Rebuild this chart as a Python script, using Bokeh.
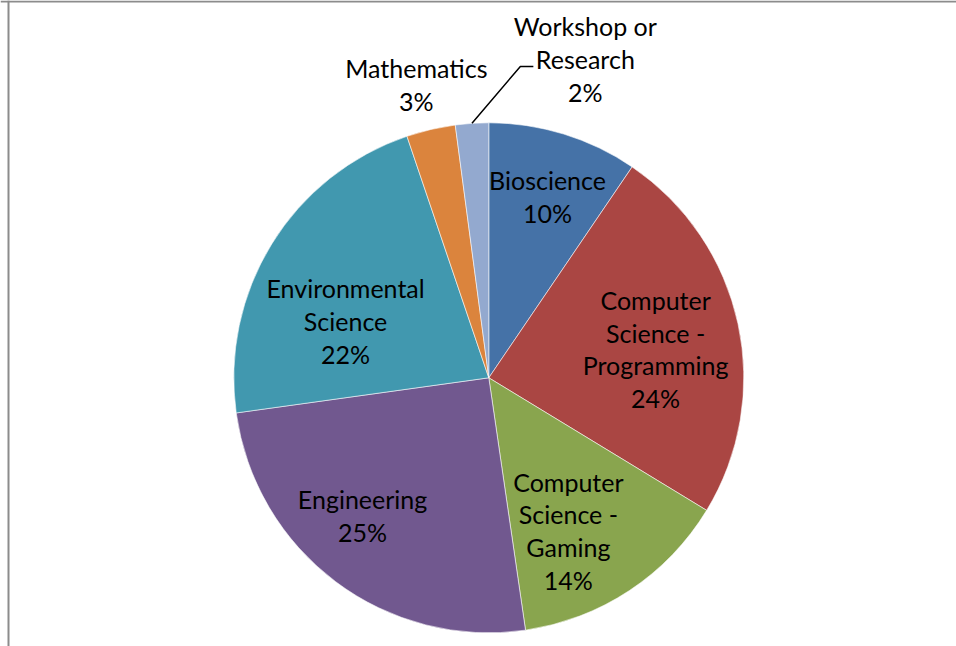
import math
from bokeh.plotting import figure
from bokeh.models import Range1d, ColumnDataSource, Span
from bokeh.core.properties import value
from bokeh.embed import file_html
from bokeh.resources import INLINE

# ---- data ----
categories = ["Bioscience", "Computer Science - Programming", "Computer Science - Gaming",
              "Engineering", "Environmental Science", "Mathematics", "Workshop or Research"]
shares = [9.5, 24.2, 14.0, 25.1, 22.0, 3.1, 2.1]
label_names = [["Bioscience"], ["Computer", "Science -", "Programming"],
               ["Computer", "Science -", "Gaming"], ["Engineering"],
               ["Environmental", "Science"], ["Mathematics"], ["Workshop or", "Research"]]
colors = ["#4572A7", "#AA4643", "#89A54E", "#71588F", "#4198AF", "#DB843D", "#93A9CF"]

# ---- layout ----
W, H = 956, 646
X0, Y0 = 0, 0                   # page position of the figure
CX, CY = 488.3, 377.3           # pie centre in page pixels
R = 255
LINE_H = 32.7
TEXT_DY = 1.5                   # small upward nudge for label text
FONT = "Lato"
FONT_SIZE = "25px"
label_r = [0.741, 0.663, 0.681, 0.737, 0.602, 1.179, 1.301]
label_dang = [1.0, 2.9, 6.2, 5.3, -10.6, -0.8, 20.7]

p = figure(width=W, height=H, output_backend="svg", toolbar_location=None,
           x_range=Range1d(X0 - CX, X0 + W - CX), y_range=Range1d(CY - Y0 - H, CY - Y0),
           min_border=0, outline_line_color=None)
p.axis.visible = False
p.grid.visible = False
p.background_fill_color = "white"

total = sum(shares)
starts, ends, mids = [], [], []
cum = 0.0
for v in shares:
    a0 = cum / total * 360.0
    cum += v
    a1 = cum / total * 360.0
    starts.append(math.radians(90 - a0))
    ends.append(math.radians(90 - a1))
    mids.append((a0 + a1) / 2)

src = ColumnDataSource(dict(x=[0] * len(shares), y=[0] * len(shares), start=starts, end=ends,
                            color=colors, cat=categories))
p.wedge(x="x", y="y", radius=R, start_angle="start", end_angle="end", direction="clock",
        fill_color="color", line_color="white", line_width=0.8, line_alpha=0.7, source=src)

# labels
tx, ty, tt = [], [], []
centers = []
for i, v in enumerate(shares):
    ang = math.radians(mids[i] + label_dang[i])
    lx = label_r[i] * R * math.sin(ang)
    ly = label_r[i] * R * math.cos(ang)
    centers.append((lx, ly))
    lines = label_names[i] + [f"{round(v / total * 100)}%"]
    n = len(lines)
    for j, s in enumerate(lines):
        tx.append(lx)
        ty.append(ly + TEXT_DY + ((n - 1) / 2 - j) * LINE_H)
        tt.append(s)
p.text(x=tx, y=ty, text=tt, text_font=value(FONT), text_font_size=FONT_SIZE,
       text_align="center", text_baseline="middle", text_color="black")

# leader line for the small workshop slice
k = len(shares) - 1
ma = math.radians(mids[k])
ex, ey = R * math.sin(ma), R * math.cos(ma)
lx, ly = centers[k]
endx, endy = lx - 52, ly - 6
p.line(x=[ex, endx - 13, endx], y=[ey, endy, endy], line_color="black", line_width=1.5)

# chart area border (left and top edges visible)
p.add_layout(Span(location=8 - CX, dimension="height", line_color="#8c8c8c", line_width=2))
p.add_layout(Span(location=CY - 1, dimension="width", line_color="#8c8c8c", line_width=2))

open("out.html", "w").write(file_html(p, INLINE))
